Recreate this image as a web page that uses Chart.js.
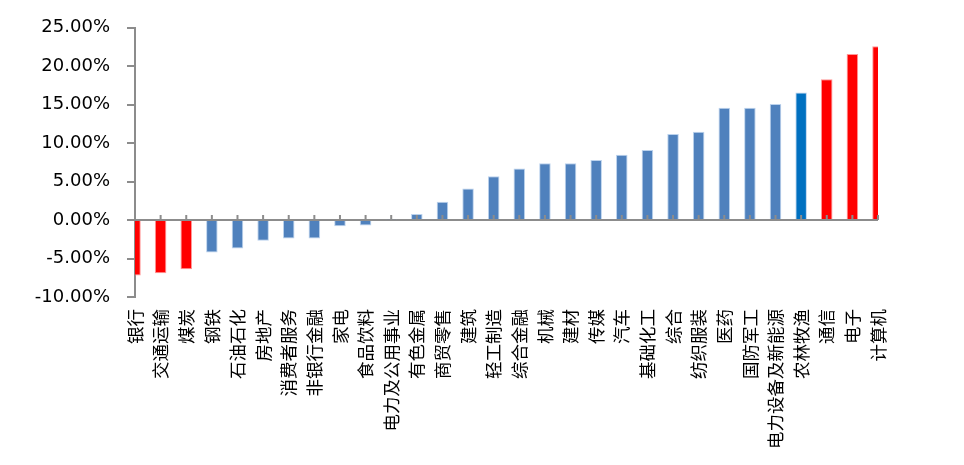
<!DOCTYPE html>
<html>
<head>
<meta charset="utf-8">
<script src="https://cdn.jsdelivr.net/npm/chart.js@4.4.1/dist/chart.umd.min.js"></script>
<style>
  html, body { margin: 0; padding: 0; background: #fff; }
  #wrap { width: 964px; height: 465px; }
</style>
</head>
<body>
<div id="wrap"><canvas id="industryChart"></canvas></div>
<script>
// Industry names, sorted by return
const industries = [
    '银行', '交通运输', '煤炭', '钢铁', '石油石化', '房地产', '消费者服务', '非银行金融',
    '家电', '食品饮料', '电力及公用事业', '有色金属', '商贸零售', '建筑', '轻工制造',
    '综合金融', '机械', '建材', '传媒', '汽车', '基础化工', '综合', '纺织服装', '医药',
    '国防军工', '电力设备及新能源', '农林牧渔', '通信', '电子', '计算机'
];

// Returns in percent
const returns = [
    -7.2, -6.9, -6.4, -4.2, -3.7, -2.7, -2.4, -2.4,
    -0.8, -0.7, 0.1, 0.8, 2.4, 4.1, 5.7,
    6.7, 7.4, 7.4, 7.8, 8.5, 9.1, 11.2, 11.5, 14.6,
    14.6, 15.1, 16.6, 18.3, 21.6, 22.6
];

// Highlight groups
const redOnes = ['银行', '交通运输', '煤炭', '通信', '电子', '计算机'];
const darkBlueOnes = ['农林牧渔'];

const yTicks = [-10, -5, 0, 5, 10, 15, 20, 25];

const barColors = industries.map(name => {
    if (redOnes.includes(name)) return '#FF0000';
    if (darkBlueOnes.includes(name)) return '#0070C0';
    return '#4F81BD';
});
const edgeColors = industries.map(name => {
    if (redOnes.includes(name)) return 'rgba(255,140,140,0.9)';
    return 'rgba(180,205,235,0.9)';
});

// small tick marks sitting on the zero line, like the original
const zeroTicks = {
    id: 'zeroTicks',
    afterDatasetsDraw(chart) {
        const x = chart.scales.x;
        const y = chart.scales.y;
        const y0 = y.getPixelForValue(0);
        const c = chart.ctx;
        c.save();
        c.strokeStyle = '#8C8C8C';
        c.lineWidth = 2;
        c.beginPath();
        for (let i = 0; i < industries.length; i++) {
            const px = x.getPixelForTick(i);
            c.moveTo(px, y0);
            c.lineTo(px, y0 - 5);
        }
        c.stroke();
        c.restore();
    }
};

const ctx = document.getElementById('industryChart').getContext('2d');
const chart = new Chart(ctx, {
    type: 'bar',
    data: {
        labels: industries,
        datasets: [{
            data: returns,
            backgroundColor: barColors,
            borderColor: edgeColors,
            borderWidth: 1,
            barPercentage: 0.45,
            categoryPercentage: 1,
        }],
    },
    options: {
        responsive: true,
        maintainAspectRatio: false,
        animation: false,
        layout: { padding: { top: 19, right: 86, left: 0, bottom: 0 } },
        plugins: {
            legend: { display: false },
            tooltip: { enabled: false },
        },
        scales: {
            x: {
                offset: false,
                grid: { display: false, drawTicks: false },
                border: { display: false },
                ticks: {
                    autoSkip: false,
                    minRotation: 90,
                    maxRotation: 90,
                    padding: 12,
                    color: '#000',
                    font: { family: '"Noto Sans CJK SC"', size: 17.5 },
                },
                afterFit(scale) { scale.height = 168; },
            },
            y: {
                min: -10,
                max: 25,
                afterBuildTicks(scale) {
                    scale.ticks = yTicks.map(v => ({ value: v }));
                },
                grid: {
                    color: c => (c.tick && c.tick.value === 0 ? '#8C8C8C' : 'rgba(0,0,0,0)'),
                    lineWidth: 2,
                    tickColor: '#8C8C8C',
                    tickLength: 8,
                    drawTicks: true,
                },
                border: { display: true, color: '#8C8C8C', width: 2 },
                ticks: {
                    padding: 17,
                    color: '#000',
                    font: { family: '"DejaVu Sans"', size: 18 },
                    callback: v => v.toFixed(2) + '%',
                },
                afterFit(scale) { scale.width = 135; },
            },
        },
    },
    plugins: [zeroTicks],
});
</script>
</body>
</html>
